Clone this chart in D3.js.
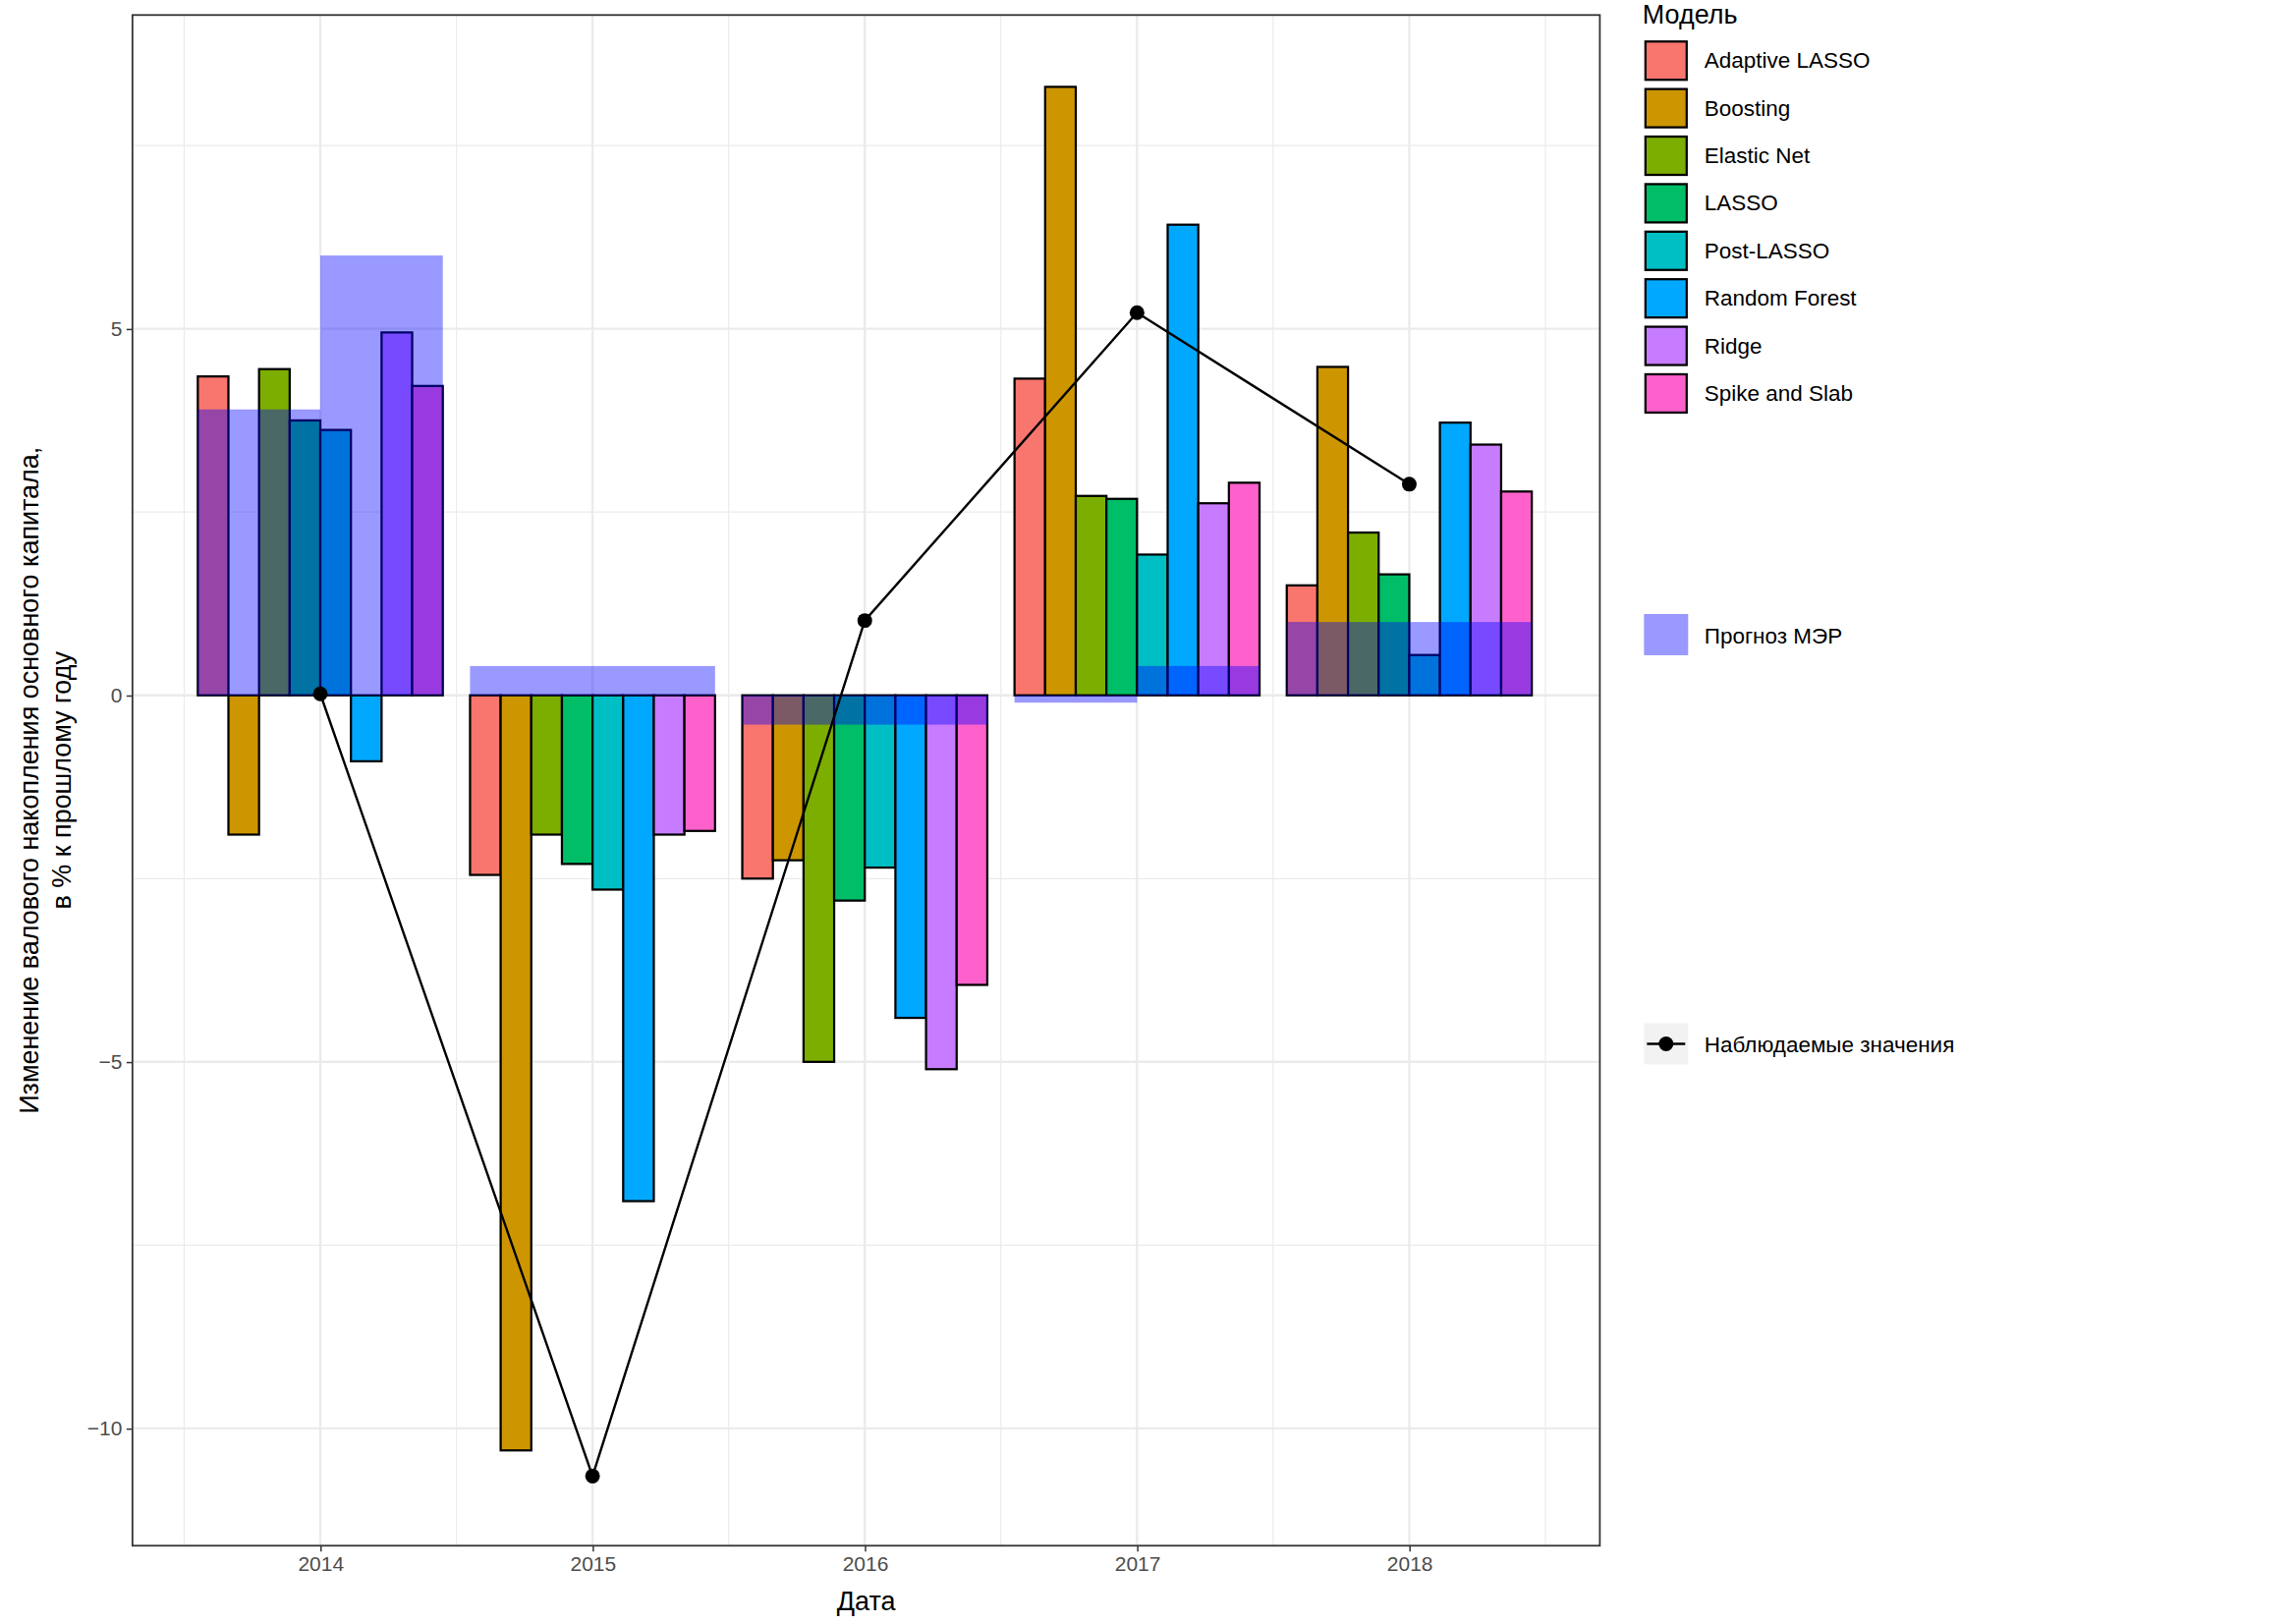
<!DOCTYPE html><html><head><meta charset="utf-8"><script src="https://cdn.jsdelivr.net/npm/d3@7"></script>
<style>body{margin:0;background:#fff}text{font-family:"Liberation Sans",Arial,sans-serif}</style></head><body>
<script>
const years=[2014,2015,2016,2017,2018];
const models=["Adaptive LASSO","Boosting","Elastic Net","LASSO","Post-LASSO","Random Forest","Ridge","Spike and Slab"];
const colors=["#F8766D","#CD9600","#7CAE00","#00BE67","#00BFC4","#00A9FF","#C77CFF","#FF61CC"];
const forecasts={
 "Adaptive LASSO":[4.35,-2.45,-2.5,4.32,1.5],
 "Boosting":[-1.9,-10.3,-2.25,8.3,4.48],
 "Elastic Net":[4.45,-1.9,-5.0,2.72,2.22],
 "LASSO":[3.75,-2.3,-2.8,2.68,1.65],
 "Post-LASSO":[3.62,-2.65,-2.35,1.92,0.55],
 "Random Forest":[-0.9,-6.9,-4.4,6.42,3.72],
 "Ridge":[4.95,-1.9,-5.1,2.62,3.42],
 "Spike and Slab":[4.22,-1.85,-3.95,2.9,2.78]};
const merYears=[2014,2015,2016,2017,2018];
const merLeft=[3.9,0.4,-0.4,-0.1,1.0];
const merRight=[6.0,0.4,-0.4,0.4,1.0];
const observed=[0.02,-10.65,1.02,5.22,2.88];
const yTicks=[-10,-5,0,5];

const W=1560,H=1103;
const svg=d3.select("body").append("svg").attr("width",2337).attr("height",1653).attr("viewBox",`0 0 ${W} ${H}`);
const L=90,R=1087,T=10,B=1050;
const x=d3.scaleLinear().domain([2013.31,2018.70]).range([L,R]);
const y=d3.scaleLinear().domain([-11.6,9.28]).range([B,T]);
const g=svg.append("g");
[2013.5,2014.5,2015.5,2016.5,2017.5,2018.5].forEach(v=>g.append("line").attr("x1",x(v)).attr("x2",x(v)).attr("y1",T).attr("y2",B).attr("stroke","#ebebeb").attr("stroke-width",0.8));
[-7.5,-2.5,2.5,7.5].forEach(v=>g.append("line").attr("x1",L).attr("x2",R).attr("y1",y(v)).attr("y2",y(v)).attr("stroke","#ebebeb").attr("stroke-width",0.8));
years.forEach(v=>g.append("line").attr("x1",x(v)).attr("x2",x(v)).attr("y1",T).attr("y2",B).attr("stroke","#ebebeb").attr("stroke-width",1.6));
yTicks.forEach(v=>g.append("line").attr("x1",L).attr("x2",R).attr("y1",y(v)).attr("y2",y(v)).attr("stroke","#ebebeb").attr("stroke-width",1.6));
const bw=0.9/8;
models.forEach((m,i)=>{
 g.selectAll(null).data(forecasts[m]).enter().append("rect")
  .attr("x",(d,j)=>x(years[j]-0.45+i*bw)).attr("width",x(2014+bw)-x(2014))
  .attr("y",d=>y(Math.max(0,d))).attr("height",d=>Math.abs(y(d)-y(0)))
  .attr("fill",colors[i]).attr("stroke","#000").attr("stroke-width",1.5);
});
const hw=x(2014.45)-x(2014);
merYears.forEach((yr,j)=>{
 [[merLeft[j],yr-0.45],[merRight[j],yr]].forEach(([v,x0])=>{
  g.append("rect").attr("x",x(x0)).attr("width",hw).attr("y",y(Math.max(0,v))).attr("height",Math.abs(y(v)-y(0)))
   .attr("fill","#0000ff").attr("fill-opacity",0.4);
 });
});
g.append("path").datum(observed).attr("d",d3.line().x((d,j)=>x(years[j])).y(d=>y(d))).attr("fill","none").attr("stroke","#000").attr("stroke-width",1.6);
g.selectAll(null).data(observed).enter().append("circle").attr("cx",(d,j)=>x(years[j])).attr("cy",d=>y(d)).attr("r",5).attr("fill","#000");
g.append("rect").attr("x",L).attr("y",T).attr("width",R-L).attr("height",B-T).attr("fill","none").attr("stroke","#333").attr("stroke-width",1.2);
const ax=svg.append("g").attr("transform",`translate(0,${B})`).call(d3.axisBottom(x).tickValues(years).tickFormat(d3.format("d")).tickSize(4));
const ay=svg.append("g").attr("transform",`translate(${L},0)`).call(d3.axisLeft(y).tickValues(yTicks).tickSize(4));
[ax,ay].forEach(a=>{a.select(".domain").remove();a.selectAll("line").attr("stroke","#333");a.selectAll("text").attr("fill","#4d4d4d").style("font-size","14px").style("font-family","Liberation Sans, Arial");});
svg.append("text").attr("x",(L+R)/2).attr("y",1094).attr("text-anchor","middle").style("font-size","18px").text("Дата");
const yl=svg.append("text").attr("transform",`translate(26,${(T+B)/2}) rotate(-90)`).attr("text-anchor","middle").style("font-size","18px");
yl.append("tspan").attr("x",0).attr("dy",0).text("Изменение валового накопления основного капитала,");
yl.append("tspan").attr("x",0).attr("dy",22).text("в % к прошлому году");
const lg=svg.append("g");
lg.append("text").attr("x",1116).attr("y",16).style("font-size","18px").text("Модель");
models.forEach((m,i)=>{
 const yy=27+i*32.3;
 lg.append("rect").attr("x",1117).attr("y",yy).attr("width",30).attr("height",28).attr("fill","#f2f2f2");
 lg.append("rect").attr("x",1118).attr("y",yy+1).attr("width",28).attr("height",26).attr("fill",colors[i]).attr("stroke","#000").attr("stroke-width",1.5);
 lg.append("text").attr("x",1158).attr("y",yy+19).style("font-size","15px").text(m);
});
lg.append("rect").attr("x",1117).attr("y",417).attr("width",30).attr("height",28).attr("fill","#0000ff").attr("fill-opacity",0.4);
lg.append("text").attr("x",1158).attr("y",437).style("font-size","15px").text("Прогноз МЭР");
lg.append("rect").attr("x",1117).attr("y",695).attr("width",30).attr("height",28).attr("fill","#f2f2f2");
lg.append("line").attr("x1",1119).attr("x2",1145).attr("y1",709).attr("y2",709).attr("stroke","#000").attr("stroke-width",1.6);
lg.append("circle").attr("cx",1132).attr("cy",709).attr("r",5).attr("fill","#000");
lg.append("text").attr("x",1158).attr("y",715).style("font-size","15px").text("Наблюдаемые значения");
</script></body></html>
